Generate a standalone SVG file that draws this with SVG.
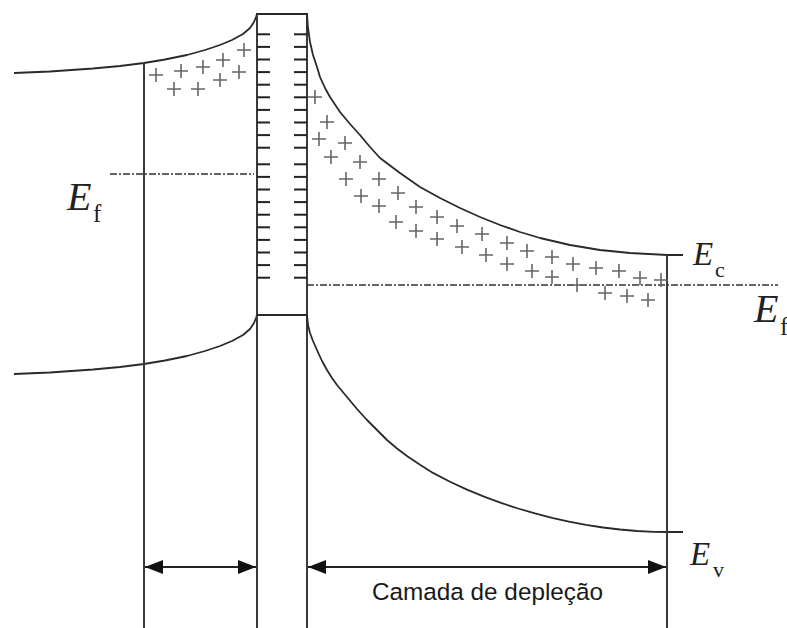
<svg xmlns="http://www.w3.org/2000/svg" xmlns:xlink="http://www.w3.org/1999/xlink" width="787" height="628" viewBox="0 0 787 628">
<style>
.ln{fill:none;stroke:#2a2a2a;stroke-width:1.8;stroke-linejoin:round;stroke-linecap:butt}
.vl{fill:none;stroke:#3a3a3a;stroke-width:2}
.dd{fill:none;stroke:#333;stroke-width:1.6;stroke-dasharray:7 2 2 2}
.tk{stroke:#222;stroke-width:2}
.pl{fill:none;stroke:#666;stroke-width:1.6}
.E{font-family:"Liberation Serif",serif;font-style:italic;fill:#222}
.s{font-family:"Liberation Serif",serif;fill:#222}
.cap{font-family:"Liberation Sans",Arial,sans-serif;font-size:24.3px;fill:#1a1a1a}
.arr{fill:none;stroke:#222;stroke-width:2}
</style>
<defs>
<path id="p" d="M-7,0H7M0,-7V7" class="pl"/>
<path id="tl" d="M0,0H13" class="tk"/>
<marker id="ah" viewBox="0 0 18 14" refX="18" refY="7" markerWidth="18" markerHeight="14" markerUnits="userSpaceOnUse" orient="auto-start-reverse">
<path d="M0,0L18,7L0,14Z" fill="#111"/>
</marker>
</defs>
<rect width="787" height="628" fill="#fff"/>

<g id="left-region">
<path id="left-ec" class="ln" d="M14,73 L50,71.5 L93,68.5 L120,66 L144,63 L165,59.5 L187,55 L205,50 L220,45 L232,40 L243,34 L250,28 L254,22 L256,17 L257,14"/>
<path id="left-ev" class="ln" transform="translate(0,301)" d="M14,73 L50,71.5 L93,68.5 L120,66 L144,63 L165,59.5 L187,55 L205,50 L220,45 L232,40 L243,34 L250,28 L254,22 L256,17 L257,14"/>
<line class="vl" x1="144" y1="63" x2="144" y2="628"/>
<line class="dd" x1="110" y1="174" x2="254" y2="174"/>
<g id="left-plus">
<use xlink:href="#p" x="156" y="75"/><use xlink:href="#p" x="181" y="71"/><use xlink:href="#p" x="203" y="67"/>
<use xlink:href="#p" x="223" y="60"/><use xlink:href="#p" x="244" y="50"/><use xlink:href="#p" x="174" y="89"/>
<use xlink:href="#p" x="198" y="89"/><use xlink:href="#p" x="220" y="80"/><use xlink:href="#p" x="239" y="72"/>
</g>
</g>

<g id="barrier">
<line class="vl" x1="257" y1="13" x2="257" y2="628"/>
<line class="vl" x1="307" y1="13" x2="307" y2="628"/>
<line class="ln" x1="256" y1="14" x2="308" y2="14"/>
<line class="ln" x1="257" y1="315" x2="307" y2="315"/>
<g id="ticks-left" transform="translate(257,0)">
<use xlink:href="#tl" y="34.3"/><use xlink:href="#tl" y="46.9"/><use xlink:href="#tl" y="59.5"/><use xlink:href="#tl" y="72.1"/><use xlink:href="#tl" y="84.7"/>
<use xlink:href="#tl" y="97.3"/><use xlink:href="#tl" y="109.9"/><use xlink:href="#tl" y="122.5"/><use xlink:href="#tl" y="135.1"/><use xlink:href="#tl" y="147.7"/>
<use xlink:href="#tl" y="164.3"/><use xlink:href="#tl" y="176.9"/><use xlink:href="#tl" y="189.5"/><use xlink:href="#tl" y="202.1"/><use xlink:href="#tl" y="214.7"/>
<use xlink:href="#tl" y="227.3"/><use xlink:href="#tl" y="239.9"/><use xlink:href="#tl" y="252.5"/><use xlink:href="#tl" y="265.1"/><use xlink:href="#tl" y="277.7"/>
</g>
<g id="ticks-right" transform="translate(294,0)">
<use xlink:href="#tl" y="34.3"/><use xlink:href="#tl" y="46.9"/><use xlink:href="#tl" y="59.5"/><use xlink:href="#tl" y="72.1"/><use xlink:href="#tl" y="84.7"/>
<use xlink:href="#tl" y="97.3"/><use xlink:href="#tl" y="109.9"/><use xlink:href="#tl" y="122.5"/><use xlink:href="#tl" y="135.1"/><use xlink:href="#tl" y="147.7"/>
<use xlink:href="#tl" y="164.3"/><use xlink:href="#tl" y="176.9"/><use xlink:href="#tl" y="189.5"/><use xlink:href="#tl" y="202.1"/><use xlink:href="#tl" y="214.7"/>
<use xlink:href="#tl" y="227.3"/><use xlink:href="#tl" y="239.9"/><use xlink:href="#tl" y="252.5"/><use xlink:href="#tl" y="265.1"/><use xlink:href="#tl" y="277.7"/>
</g>
</g>

<g id="right-region">
<path id="right-ec" class="ln" d="M307,14 L308,28 L310,42 L313,55 L317,67 L320,77 L325,88 L330,97 L340,112 L350,124 L360,135 L370,147 L380,158 L400,173 L420,187 L440,198 L460,208 L480,217 L500,225 L520,232 L540,238 L570,245 L600,250 L630,253 L667,255 L683,255"/>
<path id="right-ev" class="ln" d="M307,315 L308,325 L310,333 L313,341 L317,350 L322,361 L327,370 L332,378 L337,385 L347,397 L357,409 L367,420 L377,430 L387,440 L397,448.5 L407,456 L420,464.8 L433,472.9 L450,481.8 L467,489.6 L484,496.6 L501,502.9 L518,508.5 L535,513.4 L552,517.8 L569,521.6 L586,524.8 L603,527.5 L620,529.5 L637,531 L654,531.8 L667,532 L683,532"/>
<line class="vl" x1="667" y1="255" x2="667" y2="628"/>
<line class="dd" x1="307" y1="285" x2="778" y2="285"/>
<g id="right-plus">
<use xlink:href="#p" x="315" y="97"/><use xlink:href="#p" x="327" y="122"/><use xlink:href="#p" x="319" y="139"/>
<use xlink:href="#p" x="345" y="143"/><use xlink:href="#p" x="331" y="157"/><use xlink:href="#p" x="360" y="162"/>
<use xlink:href="#p" x="346" y="179"/><use xlink:href="#p" x="379" y="179"/><use xlink:href="#p" x="361" y="196"/>
<use xlink:href="#p" x="398" y="193"/><use xlink:href="#p" x="379" y="206"/><use xlink:href="#p" x="416" y="207"/>
<use xlink:href="#p" x="396" y="222"/><use xlink:href="#p" x="437" y="217"/><use xlink:href="#p" x="416" y="231"/>
<use xlink:href="#p" x="457" y="226"/><use xlink:href="#p" x="437" y="239"/><use xlink:href="#p" x="482" y="234"/>
<use xlink:href="#p" x="462" y="247"/><use xlink:href="#p" x="507" y="243"/><use xlink:href="#p" x="486" y="255"/>
<use xlink:href="#p" x="527" y="251"/><use xlink:href="#p" x="507" y="264"/><use xlink:href="#p" x="532" y="271"/>
<use xlink:href="#p" x="552" y="257"/><use xlink:href="#p" x="552" y="277"/><use xlink:href="#p" x="573" y="264"/>
<use xlink:href="#p" x="577" y="285"/><use xlink:href="#p" x="596" y="268"/><use xlink:href="#p" x="605" y="293"/>
<use xlink:href="#p" x="619" y="271"/><use xlink:href="#p" x="627" y="296"/><use xlink:href="#p" x="640" y="278"/>
<use xlink:href="#p" x="648" y="300"/><use xlink:href="#p" x="661" y="280"/>
</g>
</g>

<g id="labels">
<g id="label-ef-left"><text class="E" x="67" y="210" font-size="40">E</text><text class="s" x="93" y="222" font-size="25">f</text></g>
<g id="label-ef-right"><text class="E" x="754" y="322" font-size="40">E</text><text class="s" x="780" y="335" font-size="25">f</text></g>
<g id="label-ec"><text class="E" x="693" y="265" font-size="33">E</text><text class="s" x="715" y="277" font-size="22">c</text></g>
<g id="label-ev"><text class="E" x="690" y="565" font-size="33">E</text><text class="s" x="713" y="577" font-size="22">v</text></g>
<g id="label-depletion"><text class="cap" x="372" y="600">Camada de depleção</text></g>
</g>

<g id="connectors">
<line class="arr" x1="145" y1="567" x2="256" y2="567" marker-start="url(#ah)" marker-end="url(#ah)"/>
<line class="arr" x1="308" y1="567" x2="666" y2="567" marker-start="url(#ah)" marker-end="url(#ah)"/>
</g>
</svg>
